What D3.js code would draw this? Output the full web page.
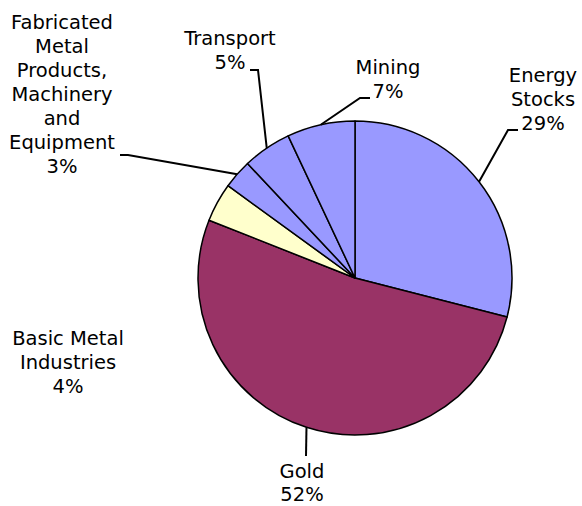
<!DOCTYPE html>
<html><head><meta charset="utf-8">
<script src="https://cdn.jsdelivr.net/npm/d3@7"></script>
<style>body{margin:0;background:#fff}svg{display:block}</style>
</head><body>
<svg id="c" width="582" height="506"></svg>
<script>
const categories = ["Energy Stocks","Gold","Basic Metal Industries","Fabricated Metal Products, Machinery and Equipment","Transport","Mining"];
const values = [29,52,4,3,5,7];
const labelLines = [
  ["Energy","Stocks","29%"],
  ["Gold","52%"],
  ["Basic Metal","Industries","4%"],
  ["Fabricated","Metal","Products,","Machinery","and","Equipment","3%"],
  ["Transport","5%"],
  ["Mining","7%"]
];
const colors = ["#9999FF","#993366","#FFFFCC","#9999FF","#9999FF","#9999FF"];

// layout
const cx = 355, cy = 278, R = 157;
const labelPos = [
  {x:543, y:75, lh:24.1},
  {x:302, y:471, lh:23},
  {x:68, y:338, lh:24.1},
  {x:62, y:22, lh:24.1},
  {x:230, y:38, lh:24.1},
  {x:388, y:67, lh:24.1}
];
const leaders = [
  {elbow:[508,130], end:[518,130]},
  {elbow:[306,456], end:[306,456]},
  null,
  {elbow:[128,155], end:[120,155]},
  {elbow:[258,70], end:[250,70]},
  {elbow:[360,98], end:[370,98]}
];

const svg = d3.select("#c");
const g = svg.append("g").attr("transform",`translate(${cx},${cy})`);
const pie = d3.pie().sort(null).value(d=>d);
const arcs = pie(values);
const arc = d3.arc().innerRadius(0).outerRadius(R);

g.selectAll("path.s").data(arcs).join("path")
  .attr("d",arc)
  .attr("fill",(d,i)=>colors[i])
  .attr("stroke","#000")
  .attr("stroke-width",1.5)
  .attr("stroke-linejoin","round");

arcs.forEach((a,i)=>{
  const L = leaders[i];
  if(!L) return;
  const m = (a.startAngle+a.endAngle)/2;
  const sx = cx + R*Math.sin(m), sy = cy - R*Math.cos(m);
  svg.append("path")
    .attr("d",`M${sx},${sy}L${L.elbow[0]},${L.elbow[1]}L${L.end[0]},${L.end[1]}`)
    .attr("fill","none").attr("stroke","#000").attr("stroke-width",2);
});

labelLines.forEach((lines,i)=>{
  const t = svg.append("text")
    .attr("text-anchor","middle")
    .attr("font-family","'DejaVu Sans', Verdana, sans-serif")
    .attr("font-size",19.5)
    .attr("fill","#000");
  lines.forEach((ln,j)=>{
    t.append("tspan").attr("x",labelPos[i].x).attr("y",labelPos[i].y + j*labelPos[i].lh)
      .attr("dy","0.35em").text(ln);
  });
});
</script>
</body></html>
